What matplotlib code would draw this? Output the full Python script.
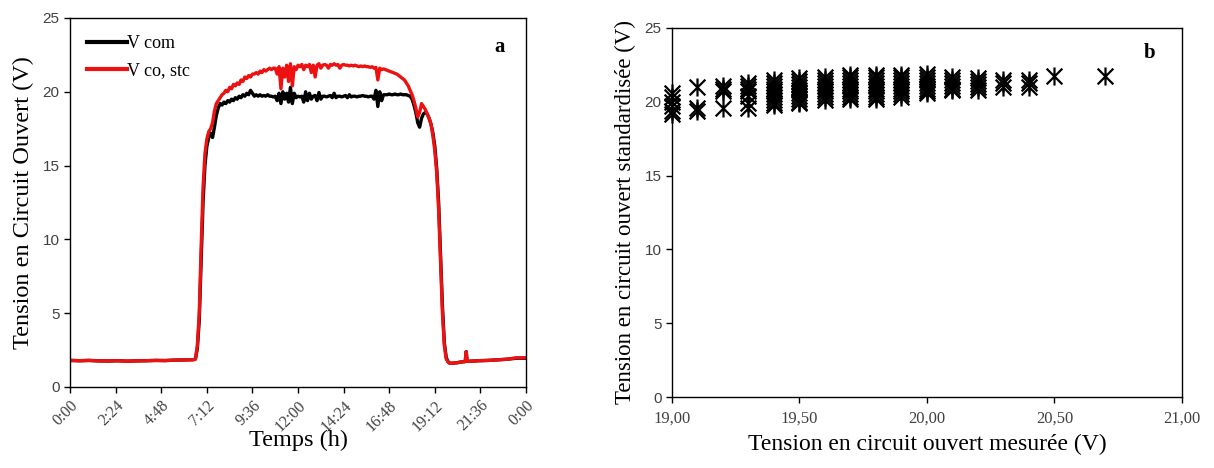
import numpy as np
import matplotlib.pyplot as plt
from matplotlib.path import Path

# ---- panel a : open circuit voltage over the day ----
hours = [0.0, 0.5, 1.0, 1.5, 2.0, 2.5, 3.0, 3.5, 4.0, 4.5, 5.0, 5.5, 6.0, 6.2, 6.4,
         6.5, 6.6, 6.7, 6.8, 6.9, 7.0, 7.1, 7.2, 7.3, 7.4, 7.5, 7.6, 7.7, 7.8, 7.9,
         8.0, 8.1, 8.2, 8.3, 8.4, 8.5, 8.6, 8.7, 8.8, 8.9,
         9.0, 9.1, 9.2, 9.3, 9.4, 9.5, 9.6, 9.7, 9.8, 9.9,
         10.0, 10.1, 10.2, 10.3, 10.4, 10.5, 10.6, 10.7, 10.8, 10.9,
         11.0, 11.1, 11.2, 11.3, 11.4, 11.5, 11.6, 11.7, 11.8, 11.9,
         12.0, 12.1, 12.2, 12.3, 12.4, 12.5, 12.6, 12.7, 12.8, 12.9,
         13.0, 13.1, 13.2, 13.3, 13.4, 13.5, 13.6, 13.7, 13.8, 13.9,
         14.0, 14.1, 14.2, 14.3, 14.4, 14.5, 14.6, 14.7, 14.8, 14.9,
         15.0, 15.1, 15.2, 15.3, 15.4, 15.5, 15.6, 15.7, 15.8, 15.9,
         16.0, 16.1, 16.2, 16.3, 16.4, 16.5, 16.6, 16.7, 16.8, 16.9,
         17.0, 17.1, 17.2, 17.3, 17.4, 17.5, 17.6, 17.7, 17.8, 17.9,
         18.0, 18.1, 18.2, 18.3, 18.4, 18.5, 18.6, 18.7, 18.8, 18.9,
         19.0, 19.1, 19.2, 19.3, 19.4, 19.5, 19.6, 19.7, 19.8, 19.9,
         20.0, 20.2, 20.4, 20.6, 20.8, 20.85, 20.9, 21.0, 21.5, 22.0, 22.5, 23.0, 23.5, 24.0]

v_com = [1.80, 1.78, 1.80, 1.77, 1.76, 1.78, 1.75, 1.77, 1.78, 1.80, 1.79, 1.82, 1.83, 1.84, 1.85,
         1.85, 1.90, 2.60, 4.50, 8.50, 12.5, 15.0, 16.3, 16.9, 17.2, 16.9, 17.6, 18.4, 18.9, 19.2,
         19.1, 19.3, 19.2, 19.4, 19.3, 19.5, 19.4, 19.6, 19.5, 19.7,
         19.6, 19.8, 19.7, 19.9, 19.8, 20.1, 19.9, 19.7, 19.8, 19.7,
         19.8, 19.7, 19.75, 19.7, 19.8, 19.7, 19.7, 19.65, 19.7, 19.4,
         19.9, 19.2, 20.0, 19.5, 19.9, 19.3, 20.3, 19.2, 19.9, 19.6,
         19.7, 19.65, 19.7, 19.3, 20.0, 19.4, 19.9, 19.5, 19.7, 19.75,
         19.4, 19.95, 19.5, 19.7, 19.7, 19.65, 19.7, 19.75, 19.6, 19.9,
         19.6, 19.7, 19.7, 19.65, 19.7, 19.75, 19.6, 19.8, 19.65, 19.7,
         19.7, 19.65, 19.7, 19.7, 19.75, 19.7, 19.7, 19.65, 19.7, 19.7,
         19.5, 20.1, 19.0, 20.0, 19.4, 19.8, 19.8, 19.8, 19.85, 19.8,
         19.8, 19.85, 19.8, 19.8, 19.85, 19.8, 19.8, 19.8, 19.75, 19.7,
         19.5, 19.1, 18.6, 17.9, 17.6, 18.2, 18.5, 18.6, 18.5, 18.2,
         17.8, 17.2, 16.3, 14.8, 12.5, 9.0, 5.5, 3.0, 2.0, 1.7,
         1.60, 1.62, 1.65, 1.70, 1.72, 2.40, 1.75, 1.74, 1.78, 1.80, 1.84, 1.88, 1.95, 1.95]

v_co_stc = [1.80, 1.78, 1.80, 1.77, 1.76, 1.78, 1.75, 1.77, 1.78, 1.80, 1.79, 1.82, 1.83, 1.84, 1.85,
            1.85, 1.90, 2.80, 5.00, 9.50, 13.5, 15.8, 16.8, 17.3, 17.5, 17.9, 18.7, 19.2, 19.4, 19.6,
            19.8, 19.9, 20.1, 20.0, 20.3, 20.2, 20.5, 20.4, 20.6, 20.5,
            20.8, 20.7, 21.0, 20.9, 21.1, 21.0, 21.2, 21.2, 21.3, 21.2,
            21.4, 21.3, 21.5, 21.4, 21.5, 21.6, 21.5, 21.6, 21.6, 21.2,
            21.7, 20.2, 21.6, 21.0, 21.8, 20.7, 21.9, 20.4, 21.7, 21.5,
            21.8, 21.7, 21.85, 21.5, 21.8, 21.7, 21.85, 21.3, 21.8, 21.0,
            21.8, 21.9, 21.6, 21.8, 21.85, 21.8, 21.6, 21.85, 21.8, 21.9,
            21.8, 21.85, 21.6, 21.8, 21.85, 21.8, 21.8, 21.75, 21.8, 21.75,
            21.8, 21.75, 21.7, 21.75, 21.7, 21.75, 21.7, 21.7, 21.65, 21.7,
            21.6, 21.65, 20.8, 21.6, 21.5, 21.55, 21.5, 21.45, 21.4, 21.35,
            21.3, 21.25, 21.2, 21.1, 21.0, 20.9, 20.8, 20.6, 20.4, 20.1,
            19.8, 19.4, 18.9, 18.3, 18.6, 19.2, 19.0, 18.8, 18.5, 18.2,
            17.8, 17.0, 16.0, 14.5, 12.0, 8.5, 5.0, 2.8, 1.9, 1.7,
            1.60, 1.62, 1.65, 1.70, 1.72, 2.40, 1.75, 1.74, 1.78, 1.80, 1.84, 1.88, 1.98, 1.98]

time_ticks = [0, 2.4, 4.8, 7.2, 9.6, 12.0, 14.4, 16.8, 19.2, 21.6, 24.0]
time_labels = ["0:00", "2:24", "4:48", "7:12", "9:36", "12:00", "14:24",
               "16:48", "19:12", "21:36", "0:00"]

# ---- panel b : standardised vs measured open circuit voltage ----
meas_levels = [19.0, 19.1, 19.2, 19.3, 19.4, 19.5, 19.6, 19.7, 19.8,
               19.9, 20.0, 20.1, 20.2, 20.3, 20.4, 20.5, 20.7]
std_values = [
    [20.6, 20.3, 20.0, 19.7, 19.4, 19.2],
    [21.0, 19.6, 19.4],
    [21.1, 20.9, 20.7, 19.6],
    [21.3, 21.1, 20.9, 20.7, 20.4, 19.9, 19.6],
    [21.5, 21.3, 21.1, 20.9, 20.7, 20.5, 20.3, 20.1, 19.9, 19.8],
    [21.6, 21.4, 21.2, 21.0, 20.8, 20.6, 20.4, 20.2, 20.0, 19.9],
    [21.7, 21.5, 21.3, 21.1, 20.9, 20.7, 20.5, 20.3, 20.1],
    [21.8, 21.7, 21.5, 21.3, 21.1, 20.9, 20.7, 20.5, 20.3, 20.2],
    [21.8, 21.7, 21.5, 21.3, 21.1, 20.9, 20.7, 20.5, 20.3, 20.2],
    [21.8, 21.7, 21.5, 21.3, 21.1, 20.9, 20.7, 20.5, 20.3],
    [21.85, 21.7, 21.5, 21.3, 21.1, 20.9, 20.7, 20.6],
    [21.7, 21.5, 21.3, 21.1, 20.9, 20.8],
    [21.6, 21.4, 21.2, 21.0, 20.8],
    [21.5, 21.3, 21.0],
    [21.5, 21.3, 21.0],
    [21.75],
    [21.75],
]
meas_ticks = [19.0, 19.5, 20.0, 20.5, 21.0]
meas_labels = ["19,00", "19,50", "20,00", "20,50", "21,00"]

serif = "Liberation Serif"
sans = "Liberation Sans"
tick_grey = "#404040"

fig = plt.figure(figsize=(12.14, 4.68), dpi=100)
ax1 = fig.add_axes([0.0577, 0.1731, 0.3756, 0.7885])
ax2 = fig.add_axes([0.5535, 0.1517, 0.4201, 0.7885])

# panel a
ax1.plot(hours, v_com, color="black", lw=2.4, label="V com")
ax1.plot(hours, v_co_stc, color="#ee1111", lw=2.4, label="V co, stc")
ax1.set_xlim(0, 24)
ax1.set_ylim(0, 25)
ax1.set_xticks(time_ticks)
ax1.set_xticklabels(time_labels, rotation=45, ha="right", rotation_mode="anchor",
                    fontfamily=serif, fontsize=11.5, color=tick_grey)
ax1.set_yticks([0, 5, 10, 15, 20, 25])
for lab in ax1.get_yticklabels():
    lab.set_fontfamily(sans)
    lab.set_fontsize(11)
    lab.set_color(tick_grey)
ax1.set_xlabel("Temps (h)", fontfamily=serif, fontsize=17.5, labelpad=-3)
ax1.set_ylabel("Tension en Circuit Ouvert (V)", fontfamily=serif, fontsize=17.5, labelpad=6)
leg = ax1.legend(loc="upper left", frameon=False, handlelength=2.2, handletextpad=0.0,
                 labelspacing=0.55, borderaxespad=0.55, prop={"family": serif, "size": 13})
for line in leg.get_lines():
    line.set_linewidth(3)
ax1.text(0.943, 0.92, "a", transform=ax1.transAxes, fontfamily=serif,
         fontweight="bold", fontsize=15, ha="center", va="center")

# panel b
M, L = Path.MOVETO, Path.LINETO
star = Path([(-1, -1), (1, 1), (-1, 1), (1, -1), (0, -1.15), (0, 1.15)],
            [M, L, M, L, M, L])
xs, ys = [], []
for lvl, col in zip(meas_levels, std_values):
    for v in col:
        xs.append(lvl)
        ys.append(v)
ax2.plot(xs, ys, ls="none", marker=star, markersize=13, markeredgewidth=1.6,
         color="black", clip_on=False)
ax2.set_xlim(19, 21)
ax2.set_ylim(0, 25)
ax2.set_xticks(meas_ticks)
ax2.set_xticklabels(meas_labels, fontfamily=serif, fontsize=12, color=tick_grey)
ax2.set_yticks([0, 5, 10, 15, 20, 25])
for lab in ax2.get_yticklabels():
    lab.set_fontfamily(sans)
    lab.set_fontsize(11)
    lab.set_color(tick_grey)
ax2.set_xlabel("Tension en circuit ouvert mesurée (V)", fontfamily=serif, fontsize=17, labelpad=5)
ax2.set_ylabel("Tension en circuit ouvert standardisée (V)", fontfamily=serif, fontsize=16.5, labelpad=6)
ax2.text(0.937, 0.932, "b", transform=ax2.transAxes, fontfamily=serif,
         fontweight="bold", fontsize=15, ha="center", va="center")

for ax in (ax1, ax2):
    ax.tick_params(direction="out", length=4, width=1, top=False, right=False)
    for sp in ax.spines.values():
        sp.set_linewidth(1.0)
        sp.set_color("black")
ax2.tick_params(axis="x", pad=6)

fig.savefig("out.png", dpi=100)
